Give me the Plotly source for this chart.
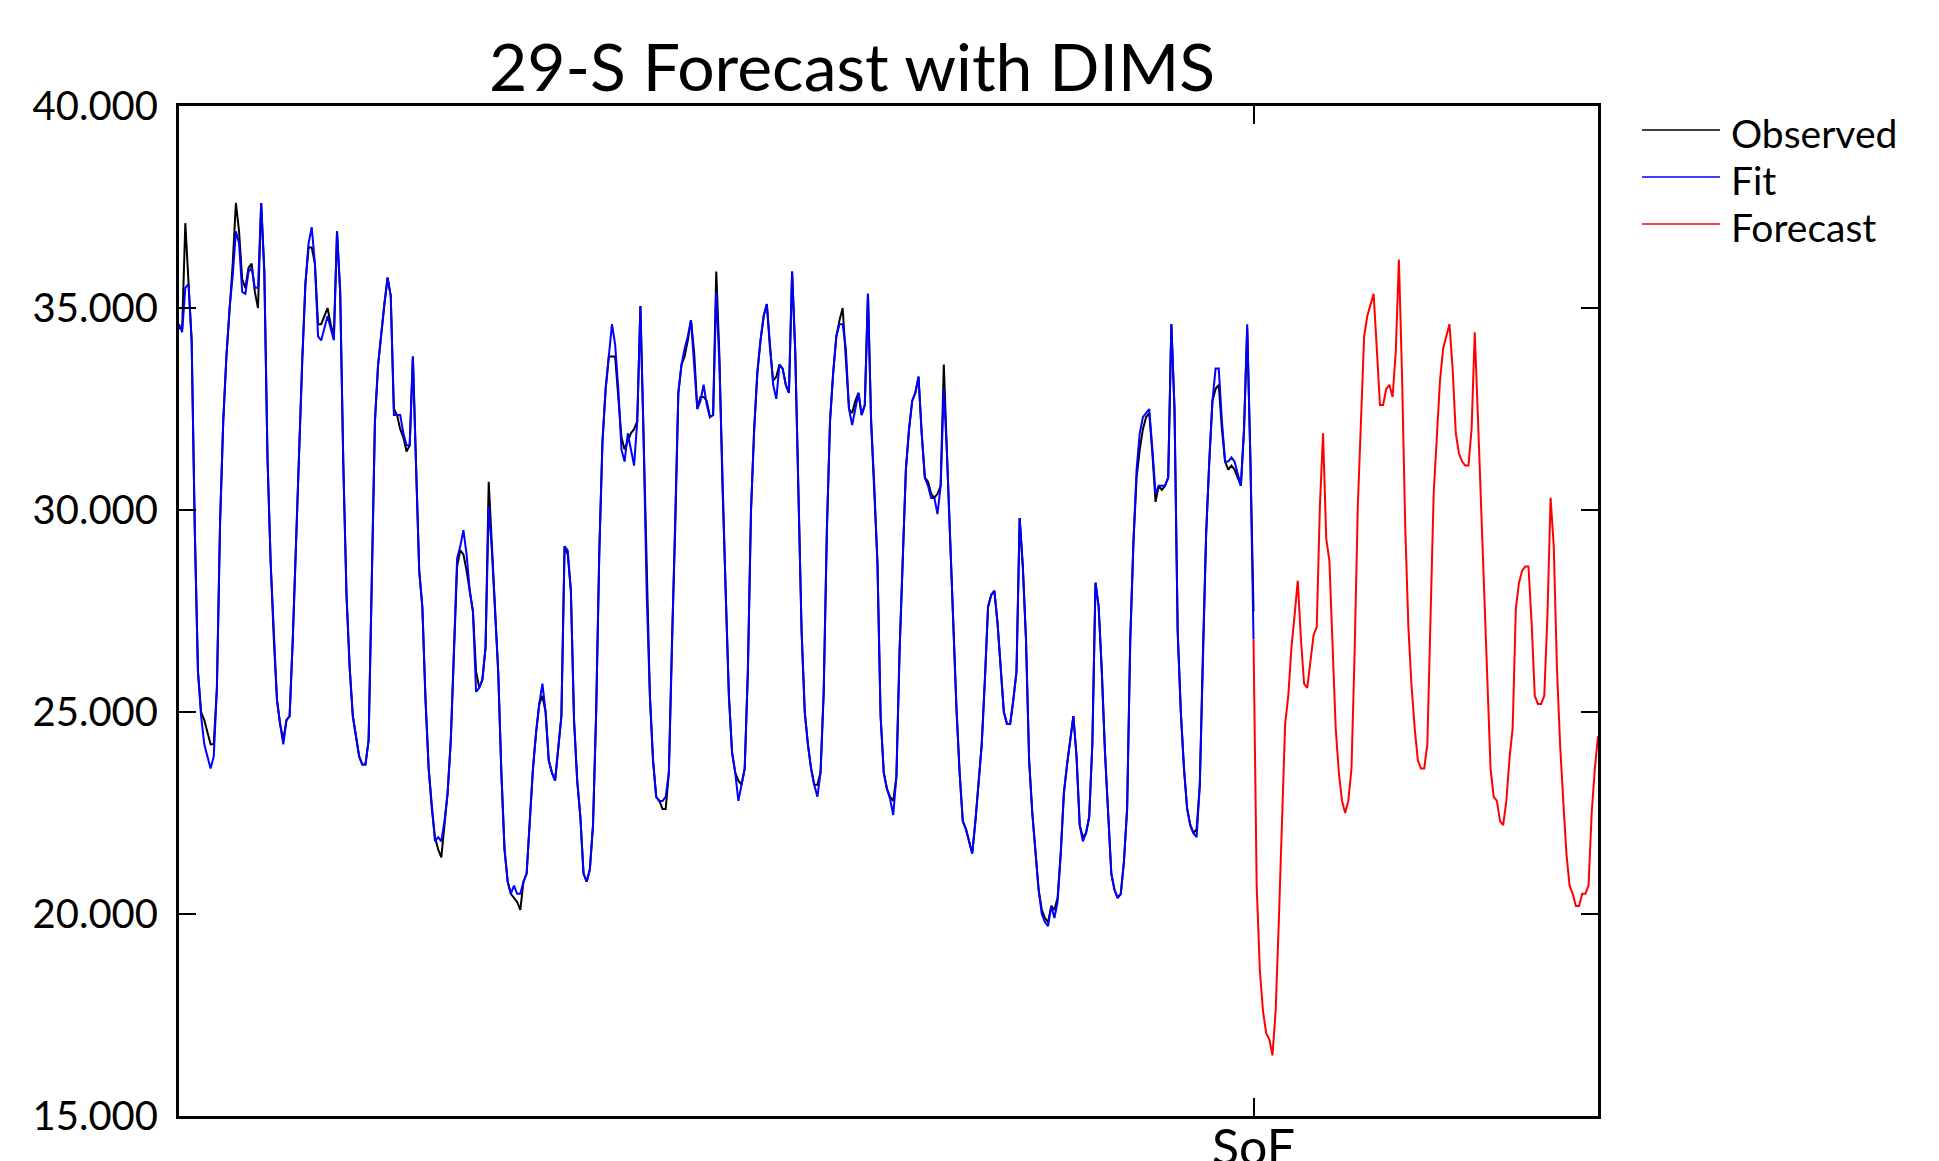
import plotly.graph_objects as go

# ---------------- data (hourly values) ----------------
observed = [
    34.5, 34.5, 37.1, 35.6, 34.2, 29.5, 26.0, 25.0, 24.8, 24.5, 24.2, 24.2, 25.6, 29.7, 32.2, 33.8, 35.0, 36.1, 37.6, 36.9, 35.7, 35.5, 36.0, 36.1,
    35.4, 35.0, 37.6, 35.9, 31.3, 28.7, 26.8, 25.3, 24.7, 24.3, 24.8, 24.9, 26.8, 29.1, 31.8, 33.7, 35.6, 36.5, 36.5, 36.1, 34.6, 34.6, 34.8, 35.0,
    34.6, 34.3, 36.9, 35.4, 31.1, 27.9, 26.1, 24.9, 24.4, 23.9, 23.7, 23.7, 24.3, 27.9, 32.2, 33.6, 34.4, 35.1, 35.75, 35.3, 32.5, 32.35, 32.0, 31.8,
    31.45, 31.6, 33.8, 31.1, 28.5, 27.6, 25.3, 23.6, 22.6, 21.9, 21.6, 21.4, 22.3, 23.0, 24.3, 26.5, 28.6, 29.0, 28.9, 28.5, 28.0, 27.5, 26.0, 25.6,
    25.8, 26.6, 30.7, 29.0, 27.6, 26.0, 23.5, 21.6, 20.8, 20.5, 20.4, 20.3, 20.1, 20.8, 21.0, 22.3, 23.6, 24.5, 25.2, 25.4, 25.0, 23.8, 23.5, 23.3,
    24.1, 24.9, 29.1, 28.9, 28.0, 24.8, 23.3, 22.4, 21.0, 20.8, 21.1, 22.2, 25.0, 29.0, 31.7, 33.0, 33.8, 33.8, 33.8, 32.8, 31.8, 31.5, 31.7, 31.9,
    32.0, 32.2, 35.05, 31.8, 27.9, 25.4, 23.8, 22.9, 22.8, 22.6, 22.6, 23.5, 26.8, 29.5, 32.9, 33.6, 33.8, 34.2, 34.7, 33.9, 32.5, 32.8, 32.8, 32.7,
    32.3, 32.35, 35.9, 33.8, 30.5, 27.9, 25.4, 24.0, 23.5, 23.3, 23.2, 23.6, 26.0, 30.0, 32.0, 33.4, 34.2, 34.8, 35.1, 34.0, 33.2, 33.3, 33.6, 33.5,
    33.1, 32.9, 35.9, 33.9, 30.5, 27.0, 25.0, 24.2, 23.6, 23.2, 23.2, 23.5, 25.5, 29.5, 32.2, 33.4, 34.3, 34.7, 35.0, 33.8, 32.5, 32.4, 32.7, 32.9,
    32.35, 32.6, 35.35, 32.2, 30.6, 28.7, 24.9, 23.5, 23.1, 22.9, 22.8, 23.4, 26.5, 29.0, 31.0, 32.0, 32.7, 32.9, 33.3, 31.9, 30.8, 30.7, 30.4, 30.3,
    30.4, 30.6, 33.6, 31.4, 29.3, 26.8, 25.1, 23.5, 22.3, 22.1, 21.8, 21.5, 22.3, 23.2, 24.2, 25.8, 27.6, 27.9, 28.0, 27.2, 26.0, 25.0, 24.7, 24.7,
    25.3, 26.0, 29.8, 28.6, 26.8, 23.8, 22.5, 21.6, 20.6, 20.1, 19.9, 19.8, 20.2, 20.1, 20.4, 21.5, 23.0, 23.7, 24.3, 24.9, 23.9, 22.2, 21.9, 22.0,
    22.4, 24.2, 28.2, 27.6, 26.0, 24.0, 22.5, 21.0, 20.6, 20.4, 20.5, 21.3, 22.6, 26.8, 29.2, 30.8, 31.5, 32.0, 32.3, 32.4, 31.4, 30.2, 30.6, 30.5,
    30.6, 30.8, 34.6, 32.5, 27.0, 25.0, 23.6, 22.6, 22.2, 22.0, 22.1, 23.2, 26.5, 29.4, 31.2, 32.7, 33.0, 33.1, 32.0, 31.2, 31.0, 31.1, 31.0, 30.8,
    30.6, 32.0, 34.5, 31.3, 27.5,
]

fit = [
    34.6, 34.4, 35.5, 35.6, 34.2, 29.5, 26.0, 24.9, 24.2, 23.9, 23.6, 23.9, 25.6, 29.7, 32.2, 33.8, 35.0, 35.8, 36.9, 36.6, 35.4, 35.35, 35.9, 36.0,
    35.5, 35.5, 37.6, 35.9, 31.3, 28.7, 26.8, 25.3, 24.7, 24.2, 24.8, 24.9, 26.8, 29.1, 31.8, 33.7, 35.6, 36.6, 37.0, 36.1, 34.3, 34.2, 34.5, 34.8,
    34.5, 34.2, 36.9, 35.4, 31.1, 27.9, 26.1, 24.9, 24.4, 23.9, 23.7, 23.7, 24.3, 27.9, 32.2, 33.6, 34.4, 35.1, 35.75, 35.3, 32.35, 32.35, 32.35, 31.9,
    31.6, 31.6, 33.8, 31.1, 28.5, 27.6, 25.3, 23.6, 22.6, 21.8, 21.9, 21.8, 22.3, 23.0, 24.3, 26.5, 28.8, 29.1, 29.5, 28.9, 28.0, 27.5, 25.5, 25.6,
    25.8, 26.6, 30.1, 29.0, 27.6, 26.0, 23.5, 21.6, 20.8, 20.5, 20.7, 20.5, 20.5, 20.8, 21.0, 22.3, 23.6, 24.5, 25.2, 25.7, 25.0, 23.8, 23.5, 23.3,
    24.1, 24.9, 29.1, 29.0, 28.0, 24.8, 23.3, 22.4, 21.0, 20.8, 21.1, 22.2, 25.0, 29.0, 31.7, 33.0, 33.8, 34.6, 34.1, 33.0, 31.5, 31.2, 31.9, 31.5,
    31.1, 32.2, 35.05, 31.8, 27.9, 25.4, 23.8, 22.9, 22.8, 22.8, 22.9, 23.5, 26.8, 29.5, 32.9, 33.6, 34.0, 34.3, 34.7, 33.6, 32.5, 32.7, 33.1, 32.6,
    32.3, 32.35, 35.4, 33.6, 30.5, 27.9, 25.4, 24.0, 23.5, 22.8, 23.2, 23.6, 26.0, 30.0, 32.0, 33.4, 34.2, 34.8, 35.1, 34.0, 33.1, 32.75, 33.6, 33.5,
    33.1, 32.9, 35.9, 33.9, 30.5, 27.0, 25.0, 24.2, 23.6, 23.2, 22.9, 23.5, 25.5, 29.5, 32.2, 33.4, 34.3, 34.6, 34.6, 34.0, 32.5, 32.1, 32.5, 32.9,
    32.35, 32.6, 35.35, 32.2, 30.6, 28.7, 24.9, 23.5, 23.1, 22.85, 22.45, 23.4, 26.5, 29.0, 31.0, 32.0, 32.7, 32.9, 33.3, 31.9, 30.8, 30.6, 30.3, 30.3,
    29.9, 30.6, 33.0, 31.4, 29.3, 26.8, 25.1, 23.5, 22.3, 22.1, 21.8, 21.5, 22.3, 23.2, 24.2, 25.8, 27.6, 27.9, 28.0, 27.2, 26.0, 25.0, 24.7, 24.7,
    25.3, 26.0, 29.8, 28.6, 26.8, 23.8, 22.5, 21.6, 20.6, 20.0, 19.8, 19.7, 20.2, 19.9, 20.3, 21.5, 23.0, 23.7, 24.3, 24.9, 23.9, 22.2, 21.8, 22.0,
    22.4, 24.2, 28.2, 27.6, 26.0, 24.0, 22.5, 21.0, 20.6, 20.4, 20.5, 21.3, 22.6, 26.8, 29.2, 31.0, 31.9, 32.3, 32.4, 32.5, 31.5, 30.4, 30.6, 30.6,
    30.6, 30.8, 34.6, 32.5, 27.0, 25.0, 23.6, 22.6, 22.2, 22.0, 21.9, 23.2, 26.5, 29.4, 31.2, 32.7, 33.5, 33.5, 32.2, 31.2, 31.2, 31.3, 31.2, 30.9,
    30.6, 32.0, 34.6, 31.3, 26.8,
]

forecast = [
    26.8, 20.7, 18.6, 17.6, 17.05, 16.9, 16.5, 17.6, 19.8, 22.5, 24.7, 25.4, 26.6, 27.4, 28.25, 26.8, 25.7, 25.6, 26.3, 26.9,
    27.1, 30.1, 31.9, 29.3, 28.75, 26.5, 24.6, 23.5, 22.8, 22.5, 22.8, 23.6, 26.5, 30.1, 32.3, 34.3, 34.8, 35.1, 35.35, 34.0,
    32.6, 32.6, 33.0, 33.1, 32.8, 33.9, 36.2, 33.3, 29.6, 27.1, 25.65, 24.6, 23.8, 23.6, 23.6, 24.2, 27.2, 30.4, 31.8, 33.2,
    34.0, 34.3, 34.6, 33.5, 31.9, 31.4, 31.2, 31.1, 31.1, 32.0, 34.4, 32.3, 30.1, 27.7, 25.65, 23.6, 22.9, 22.8, 22.3, 22.2,
    22.8, 23.85, 24.6, 27.55, 28.2, 28.5, 28.6, 28.6, 27.2, 25.4, 25.2, 25.2, 25.4, 27.4, 30.3, 29.1, 26.1, 24.2, 22.8, 21.5,
    20.7, 20.5, 20.2, 20.2, 20.5, 20.5, 20.7, 22.5, 23.6, 24.4,
]

series_names = ["Observed", "Fit", "Forecast"]
series_colors = ["#000000", "#0000ff", "#ff0000"]
y_ticks = [15, 20, 25, 30, 35, 40]
sof_label = "SoF"
title_text = "29-S Forecast with DIMS"

# ---------------- figure ----------------
sof_index = len(observed) - 1
x_obs = list(range(len(observed)))
x_fc = list(range(sof_index, sof_index + len(forecast)))

W, H = 1939, 1161
L, R, T, B = 179, 341, 106, 45
plot_w = W - L - R
plot_h = H - T - B

fig = go.Figure()
fig.add_trace(go.Scatter(x=x_obs, y=observed, mode="lines", name=series_names[0],
                         line=dict(color=series_colors[0], width=2)))
fig.add_trace(go.Scatter(x=x_obs, y=fit, mode="lines", name=series_names[1],
                         line=dict(color=series_colors[1], width=2)))
fig.add_trace(go.Scatter(x=x_fc, y=forecast, mode="lines", name=series_names[2],
                         line=dict(color=series_colors[2], width=2)))

font_family = "Lato, 'Open Sans', sans-serif"

fig.update_layout(
    width=W, height=H,
    margin=dict(l=L, r=R, t=T, b=B, pad=0, autoexpand=False),
    paper_bgcolor="white", plot_bgcolor="white",
    showlegend=False,
    font=dict(family=font_family, color="black"),
    title=dict(text=title_text, x=852 / W, xref="container", xanchor="center",
               y=1 - 68 / H, yref="container", yanchor="middle",
               font=dict(family=font_family, size=66, color="black"),
               automargin=False),
)

fig.update_xaxes(
    range=[0, x_fc[-1]], automargin=False,
    tickmode="array", tickvals=[sof_index], ticktext=[sof_label],
    ticks="inside", ticklen=18, tickwidth=1.5, tickcolor="black",
    showline=True, linewidth=3, linecolor="black", mirror="ticks",
    showgrid=False, zeroline=False,
    tickfont=dict(family=font_family, size=50, color="black"),
    ticklabelstandoff=-14,
)
fig.update_yaxes(
    range=[15, 40], automargin=False,
    tickmode="array", tickvals=y_ticks, tickformat=".3f",
    ticks="inside", ticklen=17, tickwidth=1.5, tickcolor="black",
    showline=True, linewidth=3, linecolor="black", mirror="ticks",
    showgrid=False, zeroline=False,
    tickfont=dict(family=font_family, size=40, color="black"),
    ticklabelstandoff=10,
)

# legend drawn manually (long line samples as in the original)
leg_rows_px = [130, 177, 224]
line_x0_px, line_x1_px, text_x_px = 1642, 1720, 1729
for name, color, ypx in zip(series_names, series_colors, leg_rows_px):
    yp = (H - B - ypx) / plot_h
    fig.add_shape(type="line", xref="paper", yref="paper",
                  x0=(line_x0_px - L) / plot_w, x1=(line_x1_px - L) / plot_w,
                  y0=yp, y1=yp, line=dict(color=color, width=1.5))
    fig.add_annotation(xref="paper", yref="paper", x=(text_x_px - L) / plot_w, y=yp,
                       xanchor="left", yanchor="middle", yshift=-3, text=name, showarrow=False,
                       font=dict(family=font_family, size=39, color="black"))

fig.write_html("out.html", config={"displayModeBar": False},
               post_script="document.body.style.margin='0';document.body.style.overflow='hidden';")
